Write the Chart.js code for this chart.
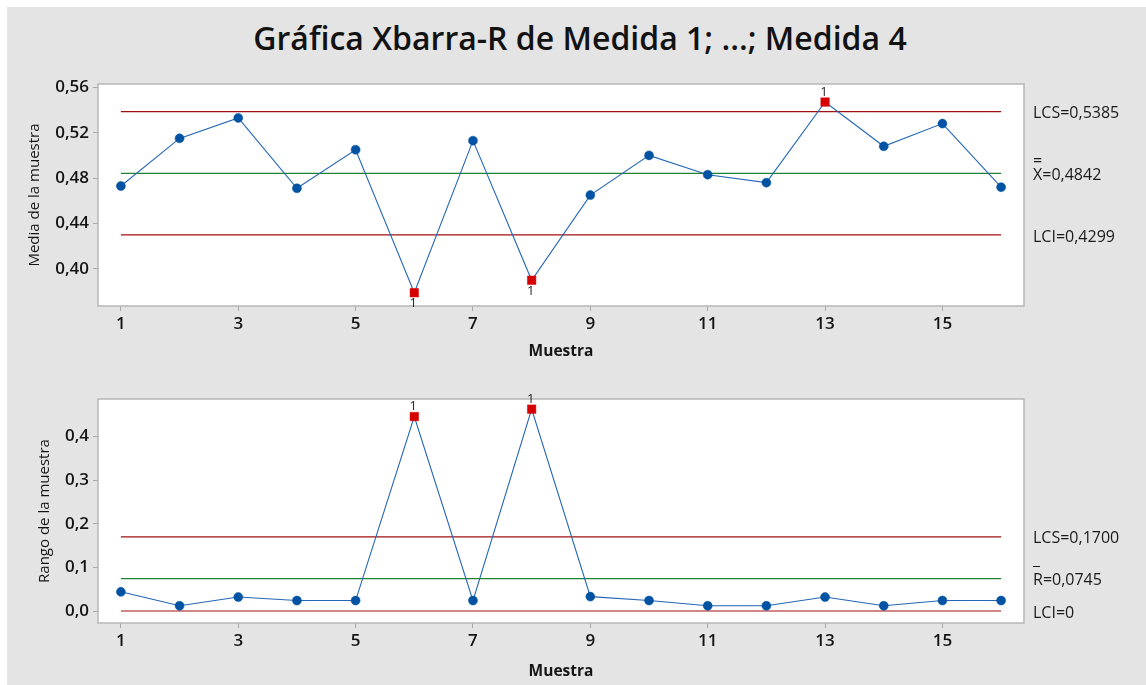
<!DOCTYPE html>
<html>
<head>
<meta charset="utf-8">
<script src="https://cdn.jsdelivr.net/npm/chart.js@4.4.1/dist/chart.umd.min.js"></script>
<style>
  html, body { margin: 0; padding: 0; background: #ffffff; width: 1146px; height: 685px; overflow: hidden; }
  #panel { position: absolute; left: 7px; top: 7px; width: 1139px; height: 678px; background: #e4e4e4; }
  #title { position: absolute; left: 7px; top: 16px; width: 1146px; text-align: center;
           font-family: "Open Sans", sans-serif; font-weight: 600; font-size: 32px; color: #121212; white-space: nowrap; }
  .box { position: absolute; left: 0; width: 1146px; }
  canvas { display: block; }
</style>
</head>
<body>
<div id="panel"></div>
<div id="title">Gráfica Xbarra-R de Medida 1; ...; Medida 4</div>
<div class="box" style="top:0;height:375px"><canvas id="xbarChart" width="1146" height="375"></canvas></div>
<div class="box" style="top:375px;height:310px"><canvas id="rangeChart" width="1146" height="310"></canvas></div>
<script>
// Subgroup numbers
const samples = [1, 2, 3, 4, 5, 6, 7, 8, 9, 10, 11, 12, 13, 14, 15, 16];
// Subgroup means
const xbarValues = [0.473, 0.515, 0.533, 0.471, 0.505, 0.379, 0.513, 0.390,
                    0.465, 0.500, 0.483, 0.476, 0.547, 0.508, 0.528, 0.472];
// Subgroup ranges
const rangeValues = [0.044, 0.012, 0.032, 0.024, 0.024, 0.446, 0.024, 0.463,
                     0.033, 0.024, 0.012, 0.012, 0.032, 0.012, 0.024, 0.024];
// Control limits: [upper, center, lower]
const xbarLimits = [0.5385, 0.4842, 0.4299];
const rangeLimits = [0.1700, 0.0745, 0];
// Axis ticks
const sampleTicks = [1, 3, 5, 7, 9, 11, 13, 15];
const xbarTicks = [0.40, 0.44, 0.48, 0.52, 0.56];
const rangeTicks = [0.0, 0.1, 0.2, 0.3, 0.4];
// Limit labels shown right of each plot
const xbarLimitLabels = ['LCS=0,5385', 'X=0,4842', 'LCI=0,4299'];
const rangeLimitLabels = ['LCS=0,1700', 'R=0,0745', 'LCI=0'];

const FONT = '"Open Sans", sans-serif';
const LINE_BLUE = '#2366b5';
const DOT_BLUE = '#0052a3';
const FLAG_RED = '#d60000';
const LIMIT_RED = '#a01010';
const CENTER_GREEN = '#1f8232';

const comma = (v, d) => v.toFixed(d).replace('.', ',');

// Plot background, frame, limit labels and test-1 flags
const controlDecor = {
  id: 'controlDecor',
  beforeDraw(chart) {
    const a = chart.chartArea, ctx = chart.ctx;
    ctx.save();
    ctx.fillStyle = '#ffffff';
    ctx.fillRect(a.left, a.top, a.right - a.left, a.bottom - a.top);
    ctx.restore();
  },
  afterDraw(chart, args, opts) {
    const a = chart.chartArea, ctx = chart.ctx, y = chart.scales.y;
    ctx.save();
    ctx.strokeStyle = '#b6b6b6';
    ctx.lineWidth = 1.5;
    ctx.strokeRect(a.left, a.top, a.right - a.left, a.bottom - a.top);

    // limit labels
    ctx.fillStyle = '#1a1a1a';
    ctx.font = '16px ' + FONT;
    ctx.textAlign = 'left';
    ctx.textBaseline = 'middle';
    const lx = a.right + 9;
    opts.limits.forEach((lim, i) => {
      const py = y.getPixelForValue(lim) + 2;
      ctx.fillText(opts.labels[i], lx, py);
      if (i === 1) {
        ctx.fillText(opts.barMark, lx, py - (opts.barMark === '=' ? 14 : 20));
      }
    });

    // "1" flags on points beyond the limits
    ctx.font = '13px ' + FONT;
    ctx.fillStyle = '#262626';
    ctx.textAlign = 'center';
    const meta = chart.getDatasetMeta(0);
    opts.values.forEach((v, i) => {
      const p = meta.data[i];
      if (v > opts.limits[0]) ctx.fillText('1', p.x - 1, p.y - 10);
      else if (v < opts.limits[2]) ctx.fillText('1', p.x - 1, p.y + 11);
    });
    ctx.restore();
  }
};

function limitSet(limits) {
  const colors = [LIMIT_RED, CENTER_GREEN, LIMIT_RED];
  return limits.map((lim, i) => ({
    data: [{ x: samples[0], y: lim }, { x: samples[samples.length - 1], y: lim }],
    borderColor: colors[i],
    borderWidth: 1.2,
    pointRadius: 0,
    fill: false
  }));
}

function buildChart(canvasId, cfg) {
  const out = v => v > cfg.limits[0] || v < cfg.limits[2];
  return new Chart(document.getElementById(canvasId), {
    type: 'line',
    data: {
      datasets: [{
        data: samples.map((s, i) => ({ x: s, y: cfg.values[i] })),
        borderColor: LINE_BLUE,
        borderWidth: 1.1,
        pointStyle: c => out(cfg.values[c.dataIndex]) ? 'rect' : 'circle',
        pointRadius: c => out(cfg.values[c.dataIndex]) ? 6 : 4.5,
        pointBackgroundColor: c => out(cfg.values[c.dataIndex]) ? FLAG_RED : DOT_BLUE,
        pointBorderColor: c => out(cfg.values[c.dataIndex]) ? FLAG_RED : DOT_BLUE,
        pointBorderWidth: 0.5,
        tension: 0
      }, ...limitSet(cfg.limits)]
    },
    options: {
      responsive: false,
      animation: false,
      events: [],
      layout: { padding: { left: 0, right: 122, top: cfg.top, bottom: 0 } },
      plugins: {
        legend: { display: false },
        tooltip: { enabled: false },
        controlDecor: { limits: cfg.limits, labels: cfg.limitLabels, values: cfg.values, barMark: cfg.barMark }
      },
      scales: {
        x: {
          type: 'linear',
          min: 0.61, max: 16.39,
          afterBuildTicks: s => { s.ticks = sampleTicks.map(v => ({ value: v })); },
          afterFit: s => { s.height = cfg.xHeight; },
          grid: { display: true, drawOnChartArea: false, drawTicks: true, tickLength: 5, color: '#a8a8a8' },
          border: { display: false },
          ticks: { font: { family: FONT, size: 17, weight: '600' }, color: '#141414', padding: 3,
                   maxRotation: 0, autoSkip: false, callback: v => String(v) },
          title: { display: true, text: 'Muestra', color: '#141414',
                   font: { family: FONT, size: 15.5, weight: 'bold' }, padding: { top: 0, bottom: cfg.xTitlePad } }
        },
        y: {
          min: cfg.yMin, max: cfg.yMax,
          afterBuildTicks: s => { s.ticks = cfg.yTicks.map(v => ({ value: v })); },
          afterFit: s => { s.width = 98; },
          grid: { display: true, drawOnChartArea: false, drawTicks: true, tickLength: 5, color: '#a8a8a8' },
          border: { display: false },
          ticks: { font: { family: FONT, size: 17, weight: '600' }, color: '#141414', padding: 4,
                   callback: v => comma(v, cfg.decimals) },
          title: { display: true, text: cfg.yTitle, color: '#141414',
                   font: { family: FONT, size: 15 }, padding: { top: cfg.yTitlePad, bottom: 0 } }
        }
      }
    },
    plugins: [controlDecor]
  });
}

buildChart('xbarChart', {
  values: xbarValues, limits: xbarLimits, limitLabels: xbarLimitLabels, barMark: '=',
  yMin: 0.3673, yMax: 0.5629, yTicks: xbarTicks, decimals: 2,
  yTitle: 'Media de la muestra', yTitlePad: 26, top: 84, xHeight: 69, xTitlePad: 14
});

buildChart('rangeChart', {
  values: rangeValues, limits: rangeLimits, limitLabels: rangeLimitLabels, barMark: '_',
  yMin: -0.0275, yMax: 0.4863, yTicks: rangeTicks, decimals: 1,
  yTitle: 'Rango de la muestra', yTitlePad: 36, top: 24, xHeight: 62, xTitlePad: 4
});
</script>
</body>
</html>
